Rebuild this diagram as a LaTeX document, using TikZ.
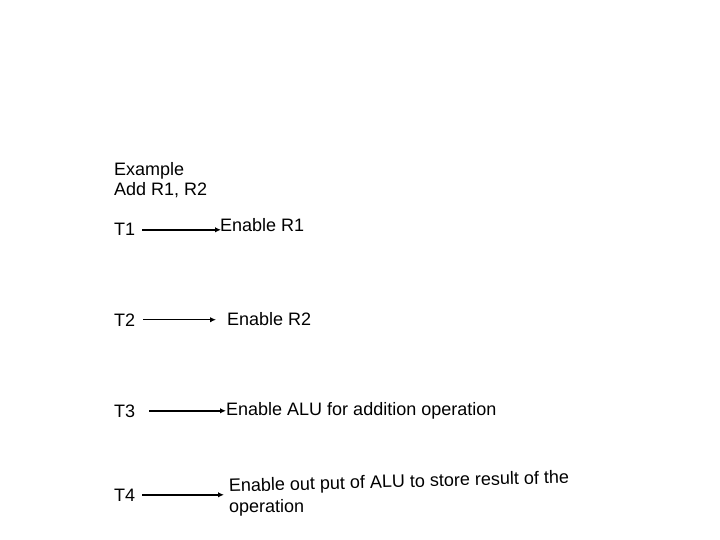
\documentclass[tikz,border=0pt]{standalone}
\usepackage{fontspec}
\setmainfont{Liberation Sans}
\usetikzlibrary{arrows.meta}

\begin{document}
\begin{tikzpicture}[
        x=1pt, y=-1pt,
        lbl/.style={
            inner sep=0pt,
            font=\fontsize{18}{20}\selectfont
        },
        arr/.style={
            line width=1.5pt,
            -{Latex[length=6pt,width=5.5pt]}
        }
    ]
        \useasboundingbox (0,0) rectangle (720,540);

        % Titolo
        \node[lbl, anchor=north west, align=left] (title) at (114,162) {Example\\Add R1, R2};

        % Tempi e frecce
        \foreach \i/\ty/\gap/\tip in {1/236/7/221, 2/326/8/216, 3/417/14/226, 4/501/7/224} {
            \node[lbl, anchor=base west] (t\i) at (114,\ty) {T\i};
            \coordinate (tip\i) at (\tip,\ty);
            \draw[arr] ([xshift=\gap pt]t\i.east) -- (t\i.east -| tip\i);
        }

        % Azioni
        \node[lbl, anchor=base west] (e1) at (220,232) {Enable R1};
        \node[lbl, anchor=base west] (e2) at (227,325) {Enable R2};
        \node[lbl, anchor=base west] (e3) at (226,415) {Enable ALU for addition operation};
        \node[lbl, anchor=base west, rotate=1.5] (e4) at (229,492) {Enable out put of ALU to store result of the};
        \node[lbl, anchor=base west] (e4b) at (229,512.5) {operation};
    \end{tikzpicture}
\end{document}
